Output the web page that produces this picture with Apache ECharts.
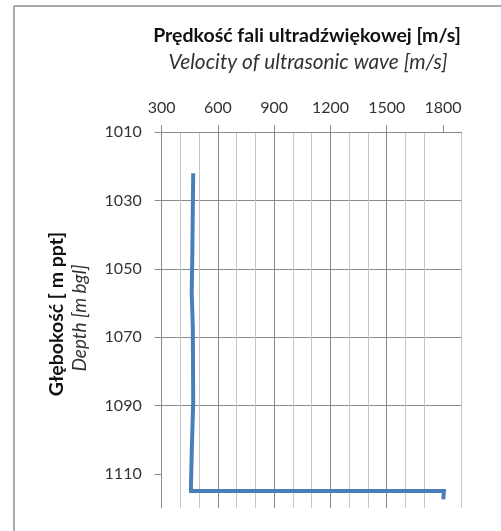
<!DOCTYPE html>
<html>
<head>
<meta charset="utf-8">
<script src="https://cdn.jsdelivr.net/npm/echarts@6/dist/echarts.min.js"></script>
<style>
html,body{margin:0;padding:0;background:#fff;overflow:hidden;}
#chart{width:501px;height:531px;}
</style>
</head>
<body>
<div id="chart"></div>
<script>
// ---- data ----
const velocity = [468, 463, 460, 466, 468, 461, 456, 456, 1805, 1802];
const depth = [1022, 1047, 1057, 1067, 1089, 1102, 1113.5, 1115, 1115, 1117.5];
const xTicks = [300, 600, 900, 1200, 1500, 1800];
const yTicks = [1010, 1030, 1050, 1070, 1090, 1110];
const titlePl = 'Prędkość fali ultradźwiękowej [m/s]';
const titleEn = 'Velocity of ultrasonic wave [m/s]';
const yNamePl = 'Głębokość [ m ppt]';
const yNameEn = 'Depth [m bgl]';

const FONT = 'Lato, "Open Sans", sans-serif';
const DARK = '#8a8a8a';
const LIGHT = '#c6c6c6';

const points = velocity.map((v, i) => [v, depth[i]]);
const plain = v => String(v);

const chart = echarts.init(document.getElementById('chart'), null, {renderer: 'canvas'});
chart.setOption({
  animation: false,
  backgroundColor: '#fff',
  grid: {left: 161.7, top: 132.3, width: 300, height: 375.7, containLabel: false},
  xAxis: [{
    type: 'value', position: 'top', min: 300, max: 1900, interval: 300,
    axisLine: {show: true, lineStyle: {color: DARK, width: 1}},
    axisTick: {show: true, inside: false, length: 7, customValues: xTicks, lineStyle: {color: DARK}},
    axisLabel: {customValues: xTicks, formatter: plain, margin: 16, color: '#333', fontFamily: FONT, fontSize: 16},
    splitLine: {show: true, showMaxLine: false, lineStyle: {color: DARK, width: 1}}
  }, {
    type: 'value', position: 'bottom', min: 300, max: 1900, interval: 100,
    axisLine: {show: false}, axisTick: {show: false}, axisLabel: {show: false},
    splitLine: {show: true, lineStyle: {color: ['rgba(0,0,0,0)', LIGHT, LIGHT], width: 1}}
  }],
  yAxis: {
    type: 'value', inverse: true, min: 1010, max: 1120, interval: 20,
    axisLine: {show: true, lineStyle: {color: DARK, width: 1}},
    axisTick: {show: true, inside: false, length: 7, customValues: yTicks, lineStyle: {color: DARK}},
    axisLabel: {customValues: yTicks, formatter: plain, margin: 20, color: '#333', fontFamily: FONT, fontSize: 16},
    splitLine: {show: true, showMaxLine: false, lineStyle: {color: DARK, width: 1}}
  },
  graphic: [
    {type: 'line', shape: {x1: 14, y1: 6, x2: 520, y2: 6}, style: {stroke: '#8c8c8c', lineWidth: 1.5}, silent: true},
    {type: 'line', shape: {x1: 14, y1: 6, x2: 14, y2: 540}, style: {stroke: '#8c8c8c', lineWidth: 1.5}, silent: true},
    {type: 'text', x: 307, y: 36, style: {text: titlePl, fontFamily: FONT, fontSize: 19.5, fontWeight: 'bold', fill: '#111', align: 'center', verticalAlign: 'middle'}},
    {type: 'text', x: 308, y: 62, style: {text: titleEn, fontFamily: FONT, fontSize: 20.8, fontStyle: 'italic', fill: '#333', align: 'center', verticalAlign: 'middle'}},
    {type: 'text', x: 57, y: 314, rotation: Math.PI / 2, style: {text: yNamePl, fontFamily: FONT, fontSize: 19.5, fontWeight: 'bold', fill: '#111', align: 'center', verticalAlign: 'middle'}},
    {type: 'text', x: 80, y: 318, rotation: Math.PI / 2, style: {text: yNameEn, fontFamily: FONT, fontSize: 19, fontStyle: 'italic', fill: '#333', align: 'center', verticalAlign: 'middle'}}
  ],
  series: [{
    type: 'line', xAxisIndex: 0, data: points, showSymbol: false, symbol: 'none',
    lineStyle: {color: '#4a7ebb', width: 4, join: 'miter'}, z: 5
  }]
});
</script>
</body>
</html>
